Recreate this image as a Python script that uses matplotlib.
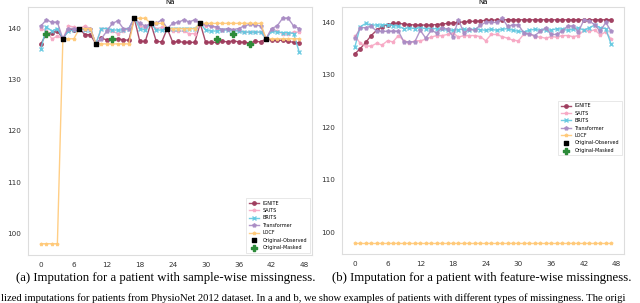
import numpy as np
import matplotlib
matplotlib.use("Agg")
import matplotlib.pyplot as plt

# time steps (hours)
t = np.arange(48)

# --- (a) sample-wise missingness ---
a_ignite = [137, 139, 139.2, 139.5, 138, 139.7, 139.8, 140, 138.8, 138.8, 137, 138.1,
            137.8, 138, 138, 137.8, 137.7, 142, 137.5, 137.5, 141, 137.5, 137.4, 140,
            137.3, 137.5, 137.3, 137.3, 137.3, 141, 137.3, 137.3, 137.3, 137.5, 137.4, 137.6,
            137.4, 137.3, 137.2, 137.5, 137.4, 138, 137.7, 137.7, 137.7, 137.5, 137.3, 137.2]
a_saits = [140, 139.5, 138, 138.5, 138, 140.5, 140.3, 140, 140.5, 140, 137, 140,
           140, 139.5, 139, 139.5, 140, 142, 140.5, 140.2, 141, 140, 140.2, 140,
           139.5, 139.5, 139.5, 139, 139, 141, 140.5, 140.5, 140, 139.8, 139.8, 139.8,
           139.5, 139.3, 139.3, 139.3, 139.3, 138, 140, 139.5, 139, 139, 139.3, 139.3]
a_brits = [136, 140.3, 139.5, 140, 138, 139.5, 139.7, 140, 139.8, 139.8, 137, 140,
           140, 139.7, 139.7, 139.7, 140, 142, 140, 139.7, 141, 139.7, 139.7, 140,
           140, 140, 140, 140, 140, 141, 139.7, 139.5, 139.5, 139.7, 139.7, 139.6,
           139.5, 139.3, 139.3, 139.3, 139.3, 138, 139.5, 139.3, 139.2, 139.2, 139, 135.5]
a_transformer = [140.5, 141.7, 141.2, 141.2, 138, 140, 140, 140, 140, 140, 137, 138,
                 139.5, 141, 141.5, 140, 140, 142, 141, 140.5, 141, 141, 141.7, 140,
                 141, 141.2, 141.7, 141.3, 141.7, 141, 140.8, 140.5, 140.3, 139.8, 140, 139.8,
                 140, 140.5, 140.8, 140.7, 140.5, 138, 140, 140.5, 142, 142, 140.5, 140]
a_locf = [98, 98, 98, 98, 138, 138, 138, 140, 140, 140, 137, 137,
          137, 137, 137, 137, 137, 142, 142, 142, 141, 141, 141, 140,
          140, 140, 140, 140, 140, 141, 141, 141, 141, 141, 141, 141,
          141, 141, 141, 141, 141, 138, 138, 138, 138, 138, 138, 138]
a_obs_t = [4, 7, 10, 17, 20, 23, 29, 41]
a_obs_v = [138, 140, 137, 142, 141, 140, 141, 138]
a_mask_t = [1, 13, 32, 35, 38]
a_mask_v = [139, 138, 138, 139, 137]

# --- (b) feature-wise missingness ---
b_ignite = [134, 135, 136.2, 137.5, 138.5, 139.2, 139.6, 139.8, 139.8, 139.7, 139.6, 139.5,
            139.5, 139.5, 139.5, 139.6, 139.7, 139.8, 139.9, 140, 140.1, 140.2, 140.2, 140.3,
            140.4, 140.4, 140.5, 140.5, 140.5, 140.5, 140.5, 140.5, 140.5, 140.5, 140.5, 140.5,
            140.5, 140.5, 140.5, 140.5, 140.5, 140.5, 140.5, 140.5, 140.5, 140.5, 140.5, 140.5]
b_saits = [137.5, 136, 135.5, 135.5, 136, 135.7, 136.5, 136.3, 137.5, 136.5, 136, 136.5,
           136.5, 136.8, 137.2, 137.5, 137.5, 137.7, 138, 137.2, 137.5, 137.5, 137.5, 137.3,
           136.5, 137.7, 137.7, 137.3, 137, 136.6, 136.5, 137.8, 137.8, 137.3, 137.2, 137,
           137.3, 137.2, 137.5, 137.5, 137.3, 137.5, 138.5, 138.3, 138.6, 137.6, 138.2, 136.8]
b_brits = [135.3, 139.2, 139.8, 139.5, 139.5, 139.5, 139.6, 139.4, 139.3, 138.8, 139, 138.8,
           139, 138.8, 138.8, 138.8, 138.7, 138.5, 138.5, 138.6, 138.7, 138.5, 138.8, 138.6,
           138.5, 138.7, 138.5, 138.7, 138.8, 138.5, 138.3, 138.2, 138.5, 138.7, 138.5, 138.6,
           138.5, 138.8, 138.7, 138.5, 138.7, 139, 138.5, 139, 139.5, 139, 138.8, 135.8]
b_transformer = [137, 139, 139, 139.3, 138.3, 138.3, 138.3, 138.3, 138.3, 136.3, 136.3, 136.3,
                 138.5, 137, 138.5, 138, 139, 138.7, 137.3, 140.5, 138, 138.7, 138.5, 139.5,
                 140, 140, 140, 140.8, 139.3, 139.5, 139.5, 138, 137.8, 137.5, 138.3, 139,
                 137.7, 137.7, 138.3, 139.3, 139.3, 138.2, 140.5, 140.3, 139.5, 138.3, 140, 138.3]
b_locf = [98] * 48

methods = ["IGNITE", "SAITS", "BRITS", "Transformer", "LOCF"]
colors = ["#9e3a5c", "#f7a8c4", "#63c8e0", "#a98cc4", "#ffc978"]
markers = ["o", "*", "x", "p", "*"]

plt.rcParams["font.family"] = ["DejaVu Sans"]
fig = plt.figure(figsize=(6.4, 3.03), dpi=100)
ax1 = fig.add_axes([28 / 640, 1 - 255 / 303, 284 / 640, 248 / 303])
ax2 = fig.add_axes([342 / 640, 1 - 254 / 303, 282 / 640, 247 / 303])


def draw(ax, series, obs=None, mask=None, loc="lower right", anchor=None):
    for name, y, c, m in zip(methods, series, colors, markers):
        ax.plot(t, y, color=c, marker=m, markersize=2.5, linewidth=1.0,
                alpha=0.9, label=name)
    if obs is not None:
        ax.scatter(obs[0], obs[1], marker="s", s=10, color="black", zorder=5,
                   label="Original-Observed")
        ax.scatter(mask[0], mask[1], marker="P", s=14, color="#2e8b3a", zorder=5,
                   label="Original-Masked")
    else:
        ax.scatter([], [], marker="s", s=10, color="black", label="Original-Observed")
        ax.scatter([], [], marker="P", s=14, color="#2e8b3a", label="Original-Masked")
    ax.set_title("Na", fontsize=5, pad=2)
    ax.set_xticks([0, 6, 12, 18, 24, 30, 36, 42, 48])
    ax.set_yticks([100, 110, 120, 130, 140])
    ax.tick_params(length=0, labelsize=5.2, colors="#333333", pad=5)
    for s in ax.spines.values():
        s.set_color("#dddddd")
        s.set_linewidth(0.8)
    leg = ax.legend(loc=loc, bbox_to_anchor=anchor, fontsize=3.5, frameon=True,
                    handlelength=2.0, borderpad=0.5, labelspacing=0.5,
                    fancybox=False)
    leg.get_frame().set_edgecolor("#dddddd")
    leg.get_frame().set_linewidth(0.6)


draw(ax1, [a_ignite, a_saits, a_brits, a_transformer, a_locf],
     obs=(a_obs_t, a_obs_v), mask=(a_mask_t, a_mask_v), loc="lower right")
draw(ax2, [b_ignite, b_saits, b_brits, b_transformer, b_locf],
     loc="center right", anchor=(1.0, 0.51))

serif = ["Liberation Serif", "DejaVu Serif"]
fig.text(166 / 640, 1 - 278 / 303, "(a) Imputation for a patient with sample-wise missingness.",
         ha="center", va="center", fontsize=9.2, family=serif)
fig.text(482 / 640, 1 - 278 / 303, "(b) Imputation for a patient with feature-wise missingness.",
         ha="center", va="center", fontsize=9.2, family=serif)
fig.text(0.002, 1 - 298 / 303,
         "lized imputations for patients from PhysioNet 2012 dataset. In a and b, we show examples "
         "of patients with different types of missingness. The origi",
         ha="left", va="center", fontsize=7.7, family=serif)

fig.savefig("out.png", dpi=100)
